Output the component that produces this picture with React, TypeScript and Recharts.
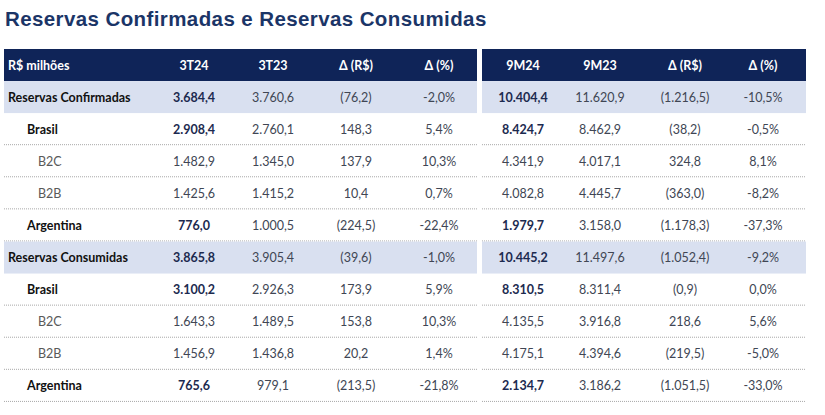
import { BarChart, Bar, XAxis, YAxis } from 'recharts';

const headers = ['R$ milhões', '3T24', '3T23', 'Δ (R$)', 'Δ (%)', '9M24', '9M23', 'Δ (R$)', 'Δ (%)'];
const rowLabels = [
  'Reservas Confirmadas', 'Brasil', 'B2C', 'B2B', 'Argentina',
  'Reservas Consumidas', 'Brasil', 'B2C', 'B2B', 'Argentina',
];
const rowKinds = ['total', 'country', 'segment', 'segment', 'country', 'total', 'country', 'segment', 'segment', 'country'];

const q3_24 = [3684.4, 2908.4, 1482.9, 1425.6, 776.0, 3865.8, 3100.2, 1643.3, 1456.9, 765.6];
const q3_23 = [3760.6, 2760.1, 1345.0, 1415.2, 1000.5, 3905.4, 2926.3, 1489.5, 1436.8, 979.1];
const dq = [-76.2, 148.3, 137.9, 10.4, -224.5, -39.6, 173.9, 153.8, 20.2, -213.5];
const dqPct = [-2.0, 5.4, 10.3, 0.7, -22.4, -1.0, 5.9, 10.3, 1.4, -21.8];
const m9_24 = [10404.4, 8424.7, 4341.9, 4082.8, 1979.7, 10445.2, 8310.5, 4135.5, 4175.1, 2134.7];
const m9_23 = [11620.9, 8462.9, 4017.1, 4445.7, 3158.0, 11497.6, 8311.4, 3916.8, 4394.6, 3186.2];
const dm = [-1216.5, -38.2, 324.8, -363.0, -1178.3, -1052.4, -0.9, 218.6, -219.5, -1051.5];
const dmPct = [-10.5, -0.5, 8.1, -8.2, -37.3, -9.2, 0.0, 5.6, -5.0, -33.0];

const NAVY = '#0f2458';
const LIGHT = '#d9e0f0';
const TITLE = '#1b3567';
const FONT = 'Lato, "Open Sans", sans-serif';

// column centres, relative to the left edge of the table
const COL_X = [190, 269, 352, 435, 519, 596, 681, 759];
const GAP_START = 473;
const GAP_END = 478;

const num = (v: number) => {
  const [i, d] = Math.abs(v).toFixed(1).split('.');
  return i.replace(/\B(?=(\d{3})+(?!\d))/g, '.') + ',' + d;
};
const money = (v: number) => (v < 0 ? `(${num(v)})` : num(v));
const pct = (v: number) => (v < 0 ? `-${num(v)}%` : `${num(v)}%`);

const tableData = [
  { id: 'h', kind: 'header', label: headers[0], cells: headers.slice(1), span: 1 },
  ...rowLabels.map((label, i) => ({
    id: `r${i}`,
    kind: rowKinds[i],
    label,
    cells: [
      num(q3_24[i]), num(q3_23[i]), money(dq[i]), pct(dqPct[i]),
      num(m9_24[i]), num(m9_23[i]), money(dm[i]), pct(dmPct[i]),
    ],
    span: 1,
  })),
];

const RowShape = (props: any) => {
  const { x, y, width, height, payload } = props;
  const kind = payload.kind;
  const cy = y + height / 2;
  const right = x + width;
  const bg = kind === 'header' ? NAVY : kind === 'total' ? LIGHT : null;
  const labelX = x + (kind === 'segment' ? 34 : kind === 'country' ? 23 : 4);
  const labelColor = kind === 'header' ? '#fff' : kind === 'segment' ? '#595959' : '#111';
  return (
    <g>
      {bg && (
        <>
          <rect x={x} y={y} width={GAP_START - x + 4} height={height} fill={bg} />
          <rect x={x + GAP_END} y={y} width={right - x - GAP_END} height={height} fill={bg} />
        </>
      )}
      {!bg && (
        <>
          <line x1={x} x2={x + GAP_START} y1={y + height - 0.5} y2={y + height - 0.5} stroke="#a8a8a8" strokeDasharray="1 1" />
          <line x1={x + GAP_END} x2={right} y1={y + height - 0.5} y2={y + height - 0.5} stroke="#a8a8a8" strokeDasharray="1 1" />
        </>
      )}
      <text x={labelX} y={cy} dominantBaseline="central" fontFamily={FONT} fontSize={12.5}
        fontWeight={kind === 'segment' ? 400 : 700} fill={labelColor}>
        {payload.label}
      </text>
      {payload.cells.map((c: string, j: number) => {
        const bold = kind === 'header' || ((kind === 'total' || kind === 'country') && (j === 0 || j === 4));
        const fill = kind === 'header' ? '#fff' : bold ? '#1c2a4f' : '#404654';
        return (
          <text key={j} x={x + COL_X[j]} y={cy} dominantBaseline="central" textAnchor="middle"
            fontFamily={FONT} fontSize={12.5} fontWeight={bold ? 700 : 400} fill={fill}>
            {c}
          </text>
        );
      })}
    </g>
  );
};

export default function App() {
  return (
    <div style={{ position: 'absolute', left: 0, top: 0, width: 825, height: 415, background: '#fff' }}>
      <div style={{ position: 'absolute', left: 5, top: 9, fontFamily: '"Liberation Sans", Arial, sans-serif',
        fontWeight: 700, fontSize: 20.5, lineHeight: '20.5px', letterSpacing: 0.4, color: TITLE, whiteSpace: 'nowrap' }}>
        Reservas Confirmadas e Reservas Consumidas
      </div>
      <div style={{ position: 'absolute', left: 0, top: 0 }}>
        <BarChart width={825} height={415} layout="vertical" data={tableData}
          margin={{ top: 49, right: 19, bottom: 13, left: 4 }} barCategoryGap={0}>
          <XAxis type="number" hide domain={[0, 1]} />
          <YAxis type="category" dataKey="id" hide />
          <Bar dataKey="span" isAnimationActive={false} shape={RowShape} />
        </BarChart>
      </div>
    </div>
  );
}
